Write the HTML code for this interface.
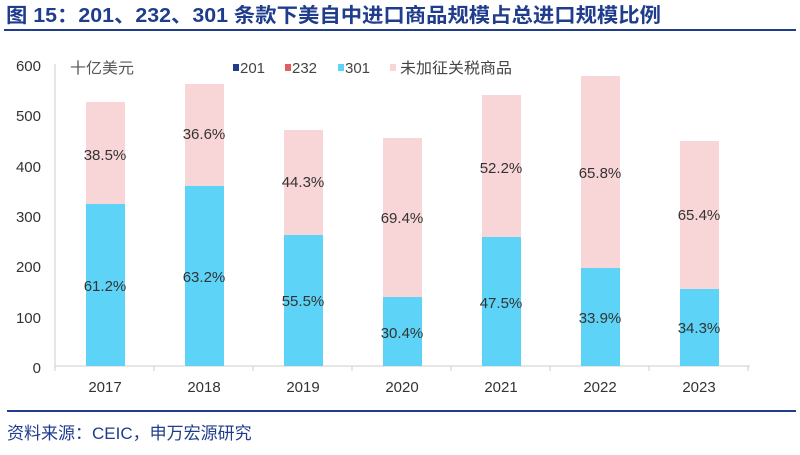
<!DOCTYPE html>
<html><head><meta charset="utf-8"><style>
body{margin:0;background:#fff;width:800px;height:450px;overflow:hidden;font-family:"Liberation Sans","Noto Sans CJK SC",sans-serif}
</style></head><body>
<svg width="800" height="450" xmlns="http://www.w3.org/2000/svg" font-family="Liberation Sans, Noto Sans CJK SC, sans-serif">
<text x="6" y="22" font-size="20" font-weight="bold" fill="#1f3d8c" textLength="655" lengthAdjust="spacingAndGlyphs">图 15：201、232、301 条款下美自中进口商品规模占总进口规模比例</text>
<rect x="4" y="29" width="792" height="2" fill="#1f3d8c"/>
<g font-size="15" fill="#333" text-anchor="end">
<text x="41" y="71">600</text><text x="41" y="121">500</text><text x="41" y="172">400</text>
<text x="41" y="222">300</text><text x="41" y="272">200</text><text x="41" y="323">100</text><text x="41" y="373">0</text>
</g>
<line x1="55" y1="64" x2="55" y2="366" stroke="#ccc"/>
<line x1="55" y1="366" x2="750" y2="366" stroke="#ccc"/>
<g stroke="#ccc">
<line x1="55" y1="366" x2="55" y2="371"/><line x1="154" y1="366" x2="154" y2="371"/><line x1="253" y1="366" x2="253" y2="371"/><line x1="352" y1="366" x2="352" y2="371"/><line x1="451" y1="366" x2="451" y2="371"/><line x1="550" y1="366" x2="550" y2="371"/><line x1="649" y1="366" x2="649" y2="371"/><line x1="748" y1="366" x2="748" y2="371"/>
</g>
<text x="70" y="73" font-size="15" fill="#555" textLength="64" lengthAdjust="spacingAndGlyphs">十亿美元</text>
<g font-size="15" fill="#444">
<rect x="233" y="64" width="6" height="7" fill="#1f3d8c"/><text x="240" y="73">201</text>
<rect x="285" y="64" width="6" height="7" fill="#e06060"/><text x="292" y="73">232</text>
<rect x="338" y="64" width="6" height="7" fill="#5dd3f7"/><text x="345" y="73">301</text>
<rect x="390" y="64" width="6" height="7" fill="#f8d5d7"/><text x="400" y="73" textLength="112" lengthAdjust="spacingAndGlyphs">未加征关税商品</text>
</g>
<g fill="#f8d5d7">
<rect x="86" y="102" width="39" height="102"/><rect x="185" y="84" width="39" height="102"/><rect x="284" y="130" width="39" height="105"/><rect x="383" y="138" width="39" height="159"/><rect x="482" y="95" width="39" height="142"/><rect x="581" y="76" width="39" height="192"/><rect x="680" y="141" width="39" height="148"/>
</g>
<g fill="#5dd3f7">
<rect x="86" y="204" width="39" height="162"/><rect x="185" y="186" width="39" height="180"/><rect x="284" y="235" width="39" height="131"/><rect x="383" y="297" width="39" height="69"/><rect x="482" y="237" width="39" height="129"/><rect x="581" y="268" width="39" height="98"/><rect x="680" y="289" width="39" height="77"/>
</g>
<g font-size="15" fill="#333" text-anchor="middle">
<text x="105" y="160">38.5%</text><text x="204" y="139">36.6%</text><text x="303" y="187">44.3%</text><text x="402" y="223">69.4%</text><text x="501" y="173">52.2%</text><text x="600" y="178">65.8%</text><text x="699" y="220">65.4%</text>
<text x="105" y="291">61.2%</text><text x="204" y="282">63.2%</text><text x="303" y="306">55.5%</text><text x="402" y="338">30.4%</text><text x="501" y="308">47.5%</text><text x="600" y="323">33.9%</text><text x="699" y="333">34.3%</text>
</g>
<g font-size="15" fill="#333" text-anchor="middle">
<text x="105" y="392">2017</text><text x="204" y="392">2018</text><text x="303" y="392">2019</text><text x="402" y="392">2020</text><text x="501" y="392">2021</text><text x="600" y="392">2022</text><text x="699" y="392">2023</text>
</g>
<rect x="7" y="410" width="789" height="2" fill="#1f3d8c"/>
<text x="7" y="439" font-size="17" fill="#1f3d8c">资料来源：CEIC，申万宏源研究</text>
</svg>
</body></html>
